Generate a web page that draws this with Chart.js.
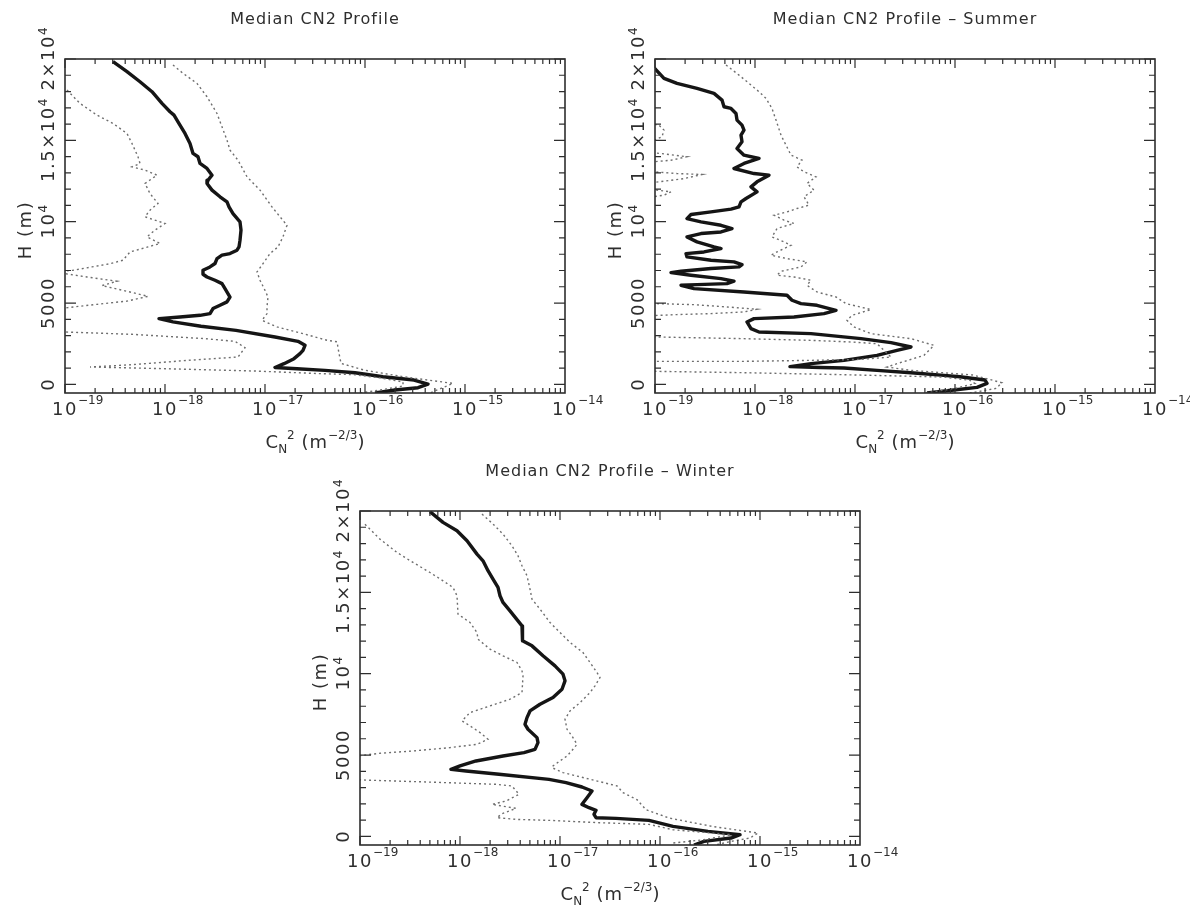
<!DOCTYPE html>
<html>
<head>
<meta charset="utf-8">
<title>Median CN2 Profiles</title>
<script src="https://cdn.jsdelivr.net/npm/chart.js@4.4.1/dist/chart.umd.min.js"></script>
<style>
    html, body { margin: 0; padding: 0; background: #fff; }
    body { width: 1190px; height: 913px; position: relative; overflow: hidden; }
    .panel { position: absolute; }
</style>
</head>
<body>
<div class="panel" style="left:0;top:0;"><canvas id="chartAll" width="620" height="460"></canvas></div>
<div class="panel" style="left:595px;top:0;"><canvas id="chartSummer" width="595" height="460"></canvas></div>
<div class="panel" style="left:290px;top:460px;"><canvas id="chartWinter" width="620" height="453"></canvas></div>
<script>
// Heights in m, values are log10(Cn2)
const allMedH = [19836, 19220, 18600, 17990, 17270, 16760, 16550, 16140, 15425, 14810, 14195, 13990, 13580, 13270, 12860, 12550, 12350, 11940, 11530, 11220, 10910, 10500, 9990, 9480, 8860, 8450, 8250, 8040, 7940, 7730, 7430, 7220, 7015, 6770, 6600, 6400, 6195, 5890, 5370, 5070, 4860, 4660, 4350, 4245, 4145, 4040, 3840, 3570, 3320, 2912, 2646, 2400, 2092, 1887, 1580, 1272, 1040, 964, 861, 718, 471, 266, 20, -205, -348, -530];
const allMedLog = [-18.52, -18.38, -18.25, -18.13, -18.03, -17.95, -17.91, -17.87, -17.80, -17.75, -17.72, -17.67, -17.65, -17.58, -17.53, -17.57, -17.58, -17.53, -17.45, -17.38, -17.36, -17.32, -17.25, -17.24, -17.25, -17.26, -17.28, -17.35, -17.43, -17.48, -17.50, -17.55, -17.62, -17.62, -17.58, -17.50, -17.43, -17.40, -17.35, -17.38, -17.45, -17.52, -17.55, -17.65, -17.85, -18.06, -17.92, -17.64, -17.29, -16.90, -16.67, -16.60, -16.62, -16.65, -16.71, -16.81, -16.90, -16.68, -16.40, -16.10, -15.82, -15.51, -15.37, -15.47, -15.70, -15.90];
const allLoH = [18090, 17270, 16550, 16040, 15420, 14810, 13990, 13580, 13370, 13170, 12860, 12350, 11730, 11120, 10710, 10300, 9890, 9480, 9070, 8660, 8450, 8140, 7630, 7420, 7220, 7015, 6900, 6600, 6340, 6070, 5680, 5410, 5120, 4920, 4720, 4550, 3300, 3220, 3077, 2810, 2646, 2256, 1682, 1477, 1210, 1067, 964, 820, 656, 595, 400, 150, -100, -350, -530];
const allLoLog = [-18.98, -18.85, -18.68, -18.52, -18.38, -18.33, -18.27, -18.25, -18.33, -18.20, -18.08, -18.20, -18.15, -18.07, -18.15, -18.20, -18.00, -18.10, -18.18, -18.05, -18.17, -18.35, -18.42, -18.55, -18.73, -18.92, -19.10, -18.78, -18.48, -18.63, -18.35, -18.17, -18.38, -18.68, -18.97, -19.30, -19.30, -19.00, -18.33, -17.60, -17.30, -17.20, -17.27, -17.77, -18.33, -18.75, -18.00, -17.10, -16.43, -16.10, -15.85, -15.62, -15.62, -15.85, -16.05];
const allHiH = [19630, 19120, 18500, 17680, 16650, 15830, 15010, 14400, 13780, 12760, 11940, 10910, 10300, 9780, 9070, 8450, 8040, 7420, 6910, 6400, 5780, 5370, 4760, 4350, 3940, 3530, 3118, 2710, 2620, 1905, 1290, 880, 471, 61, -246, -530];
const allHiLog = [-17.92, -17.82, -17.68, -17.58, -17.48, -17.43, -17.38, -17.35, -17.27, -17.18, -17.05, -16.93, -16.85, -16.78, -16.82, -16.87, -16.95, -17.02, -17.08, -17.05, -17.00, -16.97, -16.98, -16.98, -17.03, -16.88, -16.62, -16.38, -16.28, -16.26, -16.24, -16.01, -15.62, -15.12, -15.24, -15.35];

const sumMedH = [19460, 18810, 18500, 18190, 17885, 17475, 17065, 16960, 16650, 16245, 15935, 15630, 15320, 14910, 14500, 14090, 13885, 13580, 13270, 12960, 12860, 12450, 12140, 11835, 11425, 11220, 10910, 10770, 10600, 10440, 10190, 9990, 9780, 9580, 9370, 9270, 9065, 8760, 8450, 8350, 8140, 8040, 7835, 7630, 7530, 7360, 7220, 7120, 6950, 6870, 6710, 6500, 6340, 6190, 6130, 6090, 5885, 5680, 5475, 5170, 4965, 4860, 4555, 4350, 4145, 4040, 3835, 3425, 3220, 3118, 2810, 2564, 2297, 2092, 1784, 1477, 1272, 1090, 1040, 1005, 861, 718, 554, 471, 266, 61, -184, -348, -530];
const sumMedLog = [-19.01, -18.91, -18.78, -18.58, -18.41, -18.33, -18.31, -18.24, -18.19, -18.18, -18.13, -18.11, -18.14, -18.13, -18.18, -18.11, -17.96, -18.11, -18.21, -18.01, -17.86, -17.98, -18.04, -17.98, -18.09, -18.14, -18.16, -18.24, -18.44, -18.64, -18.68, -18.54, -18.34, -18.23, -18.34, -18.54, -18.68, -18.58, -18.41, -18.34, -18.51, -18.69, -18.68, -18.44, -18.21, -18.13, -18.16, -18.44, -18.74, -18.84, -18.64, -18.34, -18.21, -18.28, -18.58, -18.74, -18.61, -18.11, -17.68, -17.63, -17.54, -17.38, -17.19, -17.31, -17.61, -18.01, -18.08, -18.04, -17.96, -17.44, -16.94, -16.64, -16.44, -16.58, -16.78, -17.11, -17.44, -17.65, -17.35, -17.11, -16.78, -16.44, -16.11, -15.95, -15.70, -15.68, -15.78, -16.01, -16.28];
const sumLoH = [16300, 15935, 15630, 15220, 14910, 14400, 14190, 13990, 13780, 13680, 13300, 13065, 12960, 12900, 12650, 12490, 12200, 11940, 11835, 11630, 11530, 11300, 5100, 4963, 4900, 4760, 4615, 4450, 4350, 4290, 4245, 4150, 3000, 2912, 2810, 2707, 2605, 2500, 1682, 1538, 1477, 1415, 1415, 1300, 900, 800, 718, 595, 451, 250, 50, -250, -530];
const sumLoLog = [-19.30, -18.96, -18.91, -18.93, -19.05, -19.30, -18.94, -18.68, -18.84, -19.02, -19.30, -19.02, -18.78, -18.53, -18.71, -18.91, -19.30, -18.98, -18.84, -18.91, -19.02, -19.30, -19.30, -18.98, -18.61, -18.28, -17.98, -18.11, -18.44, -18.78, -18.95, -19.30, -19.30, -18.98, -18.11, -17.44, -17.04, -16.78, -16.64, -16.94, -17.44, -18.11, -18.98, -19.30, -19.30, -18.98, -18.11, -17.11, -16.11, -15.85, -15.80, -16.00, -16.30];
const sumHiH = [19630, 19010, 18400, 17990, 17580, 16960, 16245, 15320, 14705, 14090, 13785, 13370, 13065, 12757, 12350, 11940, 11530, 11015, 10810, 10600, 10400, 10090, 9890, 9580, 9065, 8760, 8550, 8140, 7940, 7730, 7530, 7220, 6950, 6710, 6600, 6400, 6090, 5680, 5370, 4965, 4600, 4245, 3940, 3528, 3118, 2810, 2400, 1784, 1272, 1067, 861, 574, 100, -246, -530];
const sumHiLog = [-18.29, -18.16, -18.04, -17.96, -17.89, -17.83, -17.79, -17.74, -17.69, -17.64, -17.53, -17.58, -17.51, -17.39, -17.48, -17.41, -17.51, -17.46, -17.58, -17.68, -17.81, -17.71, -17.61, -17.78, -17.83, -17.71, -17.64, -17.78, -17.84, -17.68, -17.48, -17.54, -17.74, -17.78, -17.61, -17.44, -17.48, -17.38, -17.19, -17.09, -16.84, -17.03, -17.08, -17.01, -16.84, -16.44, -16.21, -16.31, -16.58, -16.68, -16.44, -15.82, -15.53, -15.59, -15.85];

const winMedH = [19960, 19300, 18790, 18170, 17350, 16940, 16330, 15810, 15300, 14790, 14380, 13865, 13250, 12940, 12220, 12020, 11710, 11100, 10480, 9970, 9560, 9045, 8530, 8120, 7710, 7300, 6890, 6585, 6070, 5760, 5350, 5150, 4940, 4635, 4330, 4122, 4020, 3815, 3507, 3302, 3035, 2790, 2380, 1969, 1764, 1600, 1354, 1149, 1108, 985, 615, 308, 103, -103, -308, -530];
const winMedLog = [-18.30, -18.17, -18.03, -17.93, -17.83, -17.77, -17.72, -17.67, -17.62, -17.60, -17.57, -17.50, -17.42, -17.38, -17.38, -17.37, -17.28, -17.17, -17.05, -16.97, -16.95, -16.98, -17.07, -17.20, -17.30, -17.33, -17.35, -17.32, -17.23, -17.22, -17.25, -17.36, -17.57, -17.84, -18.00, -18.09, -17.94, -17.61, -17.11, -16.94, -16.78, -16.68, -16.73, -16.78, -16.71, -16.64, -16.66, -16.64, -16.44, -16.11, -15.87, -15.52, -15.20, -15.29, -15.56, -15.66];
const winLoH = [19180, 18270, 17450, 16840, 16220, 15710, 15300, 14790, 13660, 13150, 12530, 12120, 11510, 11100, 10690, 10170, 9865, 8840, 8430, 8020, 7610, 7100, 6790, 6380, 5970, 5660, 5455, 5250, 5110, 4985, 4800, 3600, 3466, 3364, 3261, 3200, 3097, 2584, 2174, 1969, 1723, 1395, 1149, 1046, 985, 841, 738, 410, 103, -205, -410];
const winLoLog = [-18.95, -18.80, -18.63, -18.47, -18.30, -18.17, -18.07, -18.03, -18.02, -17.90, -17.83, -17.82, -17.70, -17.57, -17.43, -17.38, -17.37, -17.38, -17.50, -17.70, -17.90, -17.98, -17.90, -17.80, -17.72, -17.83, -18.10, -18.47, -18.80, -18.97, -19.30, -19.30, -18.98, -18.44, -17.94, -17.64, -17.48, -17.41, -17.54, -17.68, -17.44, -17.58, -17.63, -17.44, -17.11, -16.61, -16.11, -15.87, -15.29, -15.56, -15.87];
const winHiH = [19810, 19200, 18580, 17860, 17250, 16630, 16020, 15200, 14580, 13970, 13150, 12530, 11920, 11300, 10690, 10070, 9760, 9250, 8840, 8220, 7710, 7200, 6580, 6170, 5660, 5350, 4940, 4635, 4330, 4225, 3920, 3510, 3100, 2690, 2256, 1640, 1128, 615, 205, -103, -308, -530];
const winHiLog = [-17.78, -17.67, -17.57, -17.48, -17.42, -17.38, -17.33, -17.30, -17.28, -17.20, -17.10, -17.00, -16.90, -16.77, -16.70, -16.63, -16.60, -16.65, -16.70, -16.80, -16.90, -16.95, -16.93, -16.88, -16.83, -16.87, -16.93, -17.00, -17.07, -17.08, -16.97, -16.70, -16.43, -16.37, -16.23, -16.14, -15.91, -15.48, -15.02, -15.10, -15.29, -15.45];

// axes
const xDecades = [-19, -18, -17, -16, -15, -14];
const yTickValues = [0, 5000, 10000, 15000, 20000];
const yTickLabels = ['0', '5000', '10^4', '1.5×10^4', '2×10^4'];
const yMin = -530, yMax = 20000;

const FONT = '"DejaVu Sans", sans-serif';
const INK = '#2e2e2e';

function toPoints(hs, logs) {
    return hs.map((h, i) => ({ x: Math.pow(10, logs[i]), y: h }));
}

function setFont(ctx, size, spacing) {
    ctx.font = size + 'px ' + FONT;
    ctx.letterSpacing = (spacing || 0) + 'px';
}

// parts: [text, size, rise, spacing]
function drawRich(ctx, parts, x, y, align) {
    let total = 0;
    const widths = parts.map(p => {
        setFont(ctx, p[1], p[3]);
        const w = ctx.measureText(p[0]).width;
        total += w;
        return w;
    });
    let cx = align === 'center' ? x - total / 2 : x;
    ctx.textAlign = 'left';
    ctx.textBaseline = 'alphabetic';
    parts.forEach((p, i) => {
        setFont(ctx, p[1], p[3]);
        ctx.fillText(p[0], cx, y - p[2]);
        cx += widths[i];
    });
}

function labelParts(label) {
    const bits = label.split('^');
    const parts = [[bits[0], 18, 0, 1.5]];
    if (bits[1]) parts.push([bits[1], 12, 7, 0]);
    return parts;
}

const framePlugin = {
    id: 'frame',
    afterDraw(chart, args, opts) {
        const ctx = chart.ctx;
        const a = chart.chartArea;
        const xs = chart.scales.x, ys = chart.scales.y;
        ctx.save();
        ctx.strokeStyle = INK;
        ctx.fillStyle = INK;
        ctx.lineWidth = 1.6;
        ctx.strokeRect(a.left, a.top, a.right - a.left, a.bottom - a.top);

        ctx.lineWidth = 1.2;
        ctx.beginPath();
        for (let e = -19; e < -14; e++) {
            for (let m = 1; m < 10; m++) {
                const px = xs.getPixelForValue(m * Math.pow(10, e));
                const len = m === 1 ? 9 : 5;
                ctx.moveTo(px, a.bottom); ctx.lineTo(px, a.bottom - len);
                ctx.moveTo(px, a.top); ctx.lineTo(px, a.top + len);
            }
        }
        for (let h = 0; h <= yMax; h += 1000) {
            const py = ys.getPixelForValue(h);
            const len = h % 5000 === 0 ? 11 : 6;
            ctx.moveTo(a.left, py); ctx.lineTo(a.left + len, py);
            ctx.moveTo(a.right, py); ctx.lineTo(a.right - len, py);
        }
        ctx.stroke();

        // x tick labels: "10" centred on the tick, exponent trailing
        xDecades.forEach(e => {
            const px = xs.getPixelForValue(Math.pow(10, e));
            setFont(ctx, 18, 1.5);
            const w = ctx.measureText('10').width;
            drawRich(ctx, [['10', 18, 0, 1.5]], px - w / 2, a.bottom + 22, 'left');
            drawRich(ctx, [['\u2212' + Math.abs(e), 12, 0, 0]], px + w / 2, a.bottom + 11, 'left');
        });

        // y tick labels, rotated
        yTickValues.forEach((v, i) => {
            const py = ys.getPixelForValue(v);
            ctx.save();
            ctx.translate(a.left - 11, py);
            ctx.rotate(-Math.PI / 2);
            drawRich(ctx, labelParts(yTickLabels[i]), 0, 0, 'center');
            ctx.restore();
        });

        const midX = (a.left + a.right) / 2;
        const midY = (a.top + a.bottom) / 2;

        ctx.save();
        ctx.translate(a.left - 34, midY + 4);
        ctx.rotate(-Math.PI / 2);
        drawRich(ctx, [['H (m)', 18, 0, 1.5]], 0, 0, 'center');
        ctx.restore();

        drawRich(ctx, [['C', 18, 0, 0], ['N', 12, -5, 0], ['2', 12, 9, 0], [' (m', 18, 0, 1], ['\u22122/3', 12, 9, 0], [')', 18, 0, 0]], midX, a.bottom + 55, 'center');

        drawRich(ctx, [[opts.title, 16, 0, 1]], midX, a.top - 35, 'center');
        ctx.restore();
    }
};

function makeChart(id, title, med, lo, hi, pad) {
    const dotted = { showLine: true, pointRadius: 0, pointHoverRadius: 0, borderColor: '#6e6e6e', borderWidth: 1.4, borderDash: [2, 3], tension: 0, clip: 0 };
    return new Chart(document.getElementById(id), {
        type: 'scatter',
        data: {
            datasets: [
                Object.assign({ data: lo }, dotted),
                Object.assign({ data: hi }, dotted),
                { data: med, showLine: true, pointRadius: 0, pointHoverRadius: 0, borderColor: '#151515', borderWidth: 3.4, borderJoinStyle: 'round', tension: 0, clip: 0 }
            ]
        },
        options: {
            responsive: false,
            animation: false,
            events: [],
            layout: { padding: pad },
            plugins: { legend: { display: false }, tooltip: { enabled: false }, frame: { title: title } },
            scales: {
                x: { type: 'logarithmic', min: 1e-19, max: 1e-14, display: false },
                y: { type: 'linear', min: yMin, max: yMax, display: false }
            }
        },
        plugins: [framePlugin]
    });
}

makeChart('chartAll', 'Median CN2 Profile',
    toPoints(allMedH, allMedLog), toPoints(allLoH, allLoLog), toPoints(allHiH, allHiLog),
    { left: 65, top: 59, right: 55, bottom: 67 });
makeChart('chartSummer', 'Median CN2 Profile \u2013 Summer',
    toPoints(sumMedH, sumMedLog), toPoints(sumLoH, sumLoLog), toPoints(sumHiH, sumHiLog),
    { left: 60, top: 59, right: 35, bottom: 67 });
makeChart('chartWinter', 'Median CN2 Profile \u2013 Winter',
    toPoints(winMedH, winMedLog), toPoints(winLoH, winLoLog), toPoints(winHiH, winHiLog),
    { left: 70, top: 51, right: 50, bottom: 68 });
</script>
</body>
</html>
